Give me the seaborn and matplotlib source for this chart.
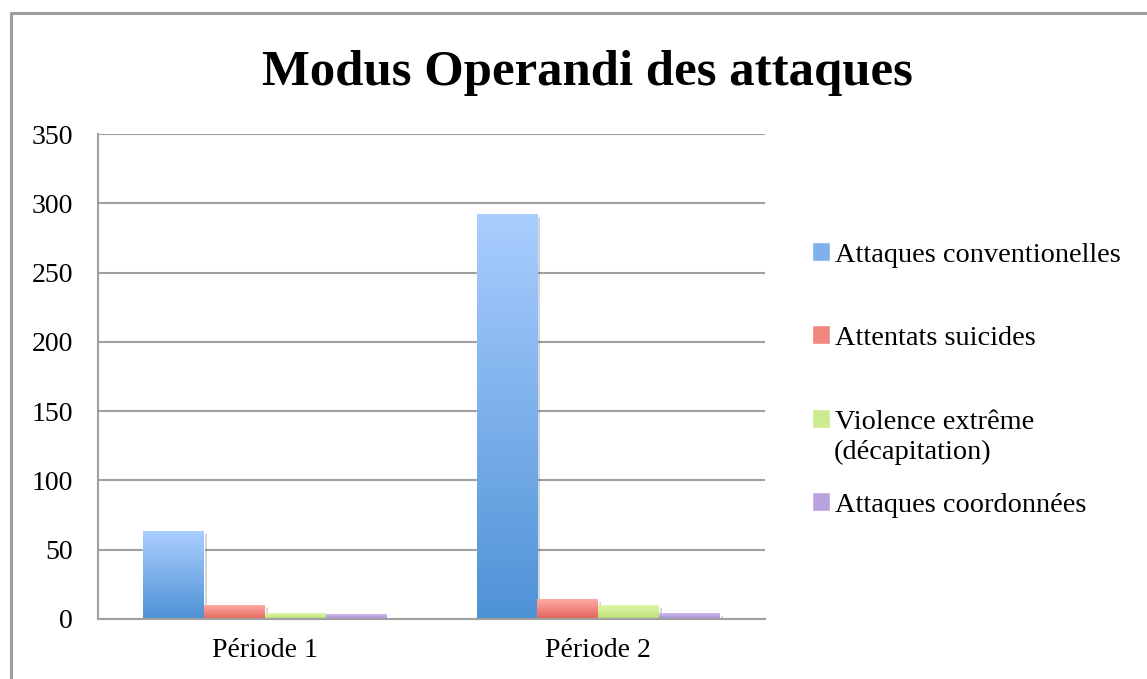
import numpy as np
import pandas as pd
import matplotlib
matplotlib.use('Agg')
import matplotlib.pyplot as plt
import seaborn as sns
from matplotlib.colors import LinearSegmentedColormap
from matplotlib.lines import Line2D
from matplotlib.patches import Patch
import matplotlib.patheffects as pe

# données
periodes = ['Période 1', 'Période 2']
types = ['Attaques conventionelles', 'Attentats suicides',
         'Violence extrême\n(décapitation)', 'Attaques coordonnées']
conventionnelles = [63, 292]
suicides = [10, 14]
violence = [4, 10]
coordonnees = [3, 4]

# couleurs (haut, bas) des dégradés
degrades = [('#AACEFF', '#4E92D6'),
            ('#FFAAA4', '#E2645A'),
            ('#E0F7A8', '#B9DE78'),
            ('#CFBBEE', '#A58AD0')]
milieu = ['#7DB0EC', '#F0877E', '#CCEB90', '#BAA2DF']

df = pd.DataFrame({
    'periode': periodes * 4,
    'type': np.repeat(types, 2),
    'nombre': conventionnelles + suicides + violence + coordonnees,
})

sns.set_style('white')
plt.rcParams['font.family'] = ['Liberation Serif', 'DejaVu Serif']
plt.rcParams['text.color'] = 'black'

fig = plt.figure(figsize=(11.47, 6.79), dpi=100)
ax = fig.add_axes([98 / 1147, 60 / 679, 667 / 1147, 485 / 679])

sns.barplot(data=df, x='periode', y='nombre', hue='type', hue_order=types,
            palette=milieu, saturation=1, width=0.73, gap=0, legend=False, ax=ax)
xlim = ax.get_xlim()

# dégradé vertical dans chaque barre
grad = np.linspace(0, 1, 256).reshape(-1, 1)
for cont, (haut, bas) in zip(ax.containers, degrades):
    cmap = LinearSegmentedColormap.from_list('g', [bas, haut])
    for bar in cont:
        x0, y0 = bar.get_x(), bar.get_y()
        w, h = bar.get_width(), bar.get_height()
        bar.set_path_effects([pe.SimplePatchShadow(offset=(2, -2), shadow_rgbFace='k', alpha=0.18),
                              pe.Normal()])
        ax.imshow(grad, cmap=cmap, extent=[x0, x0 + w, y0, y0 + h], origin='lower',
                  aspect='auto', zorder=bar.get_zorder() + 0.1, interpolation='bilinear')

ax.set_xlim(xlim)
ax.set_ylim(0, 350)
ax.set_yticks(range(0, 351, 50))
ax.yaxis.grid(True, color='#A0A0A0', lw=1.5)
ax.set_axisbelow(True)
ax.set_xlabel('')
ax.set_ylabel('')
for s in ['top', 'right']:
    ax.spines[s].set_visible(False)
for s in ['left', 'bottom']:
    ax.spines[s].set_color('#A0A0A0')
    ax.spines[s].set_linewidth(1.5)
ax.tick_params(axis='y', length=0, labelsize=20, pad=18, labelcolor='black')
ax.tick_params(axis='x', length=0, labelsize=20, pad=14, labelcolor='black')

fig.text(587 / 1147, 1 - 85 / 679, 'Modus Operandi des attaques',
         ha='center', va='baseline', fontsize=36.5, fontweight='bold', color='black')

# légende, une entrée à la fois (espacement irrégulier comme l'original)
pos_legende = [255, 338, 422, 505]
for lab, col, y in zip(types, milieu, pos_legende):
    premiere, *suite = lab.split('\n')
    fig.legend(handles=[Patch(facecolor=col)], labels=[premiere], loc='center left',
               bbox_to_anchor=(812 / 1147, 1 - y / 679), frameon=False,
               fontsize=20.4, handlelength=0.62, handleheight=0.62,
               handletextpad=0.2, borderpad=0, borderaxespad=0)
    for i, ligne in enumerate(suite):
        fig.text(834 / 1147, 1 - (y + 30 * (i + 1)) / 679, ligne,
                 ha='left', va='center', fontsize=20.4)

# cadre gris
fig.add_artist(Line2D([11 / 1147, 1], [1 - 13 / 679] * 2, color='#9C9C9C', lw=2.2,
                      transform=fig.transFigure))
fig.add_artist(Line2D([11 / 1147] * 2, [0, 1 - 13 / 679], color='#9C9C9C', lw=2.2,
                      transform=fig.transFigure))

fig.savefig('out.png', dpi=100)
